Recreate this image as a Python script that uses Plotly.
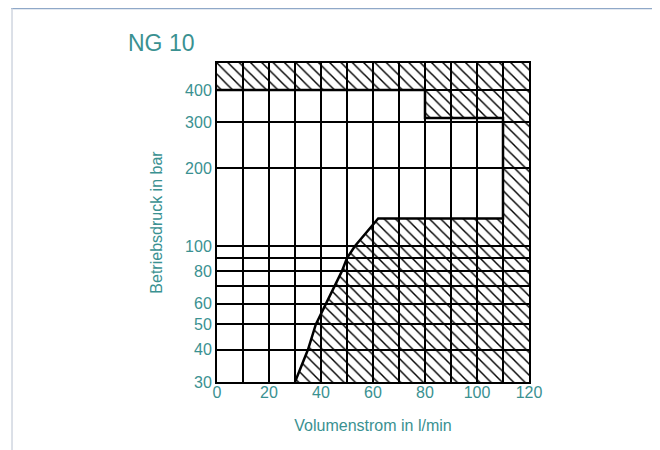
import plotly.graph_objects as go
import math

# Data
x_grid = [0, 10, 20, 30, 40, 50, 60, 70, 80, 90, 100, 110, 120]
x_labels = ["0", "", "20", "", "40", "", "60", "", "80", "", "100", "", "120"]
y_grid = [30, 40, 50, 60, 70, 80, 90, 100, 200, 300, 400]
y_labels = ["30", "40", "50", "60", "", "80", "", "100", "200", "300", "400"]

# Boundary of the admissible operating range (flow l/min, pressure bar)
limit_q = [30, 35, 38, 42, 48, 50, 53, 62, 110, 110, 80, 80, 0]
limit_p = [30, 40, 50, 60, 80, 90, 100, 128, 128, 312, 312, 400, 400]

q_min, q_max = 0, 120
p_min, p_max = 30, 508

teal = "#3a9191"
font_family = "Arial, Liberation Sans, sans-serif"

# hatched (non-admissible) region: boundary + outer corners of the chart
hatch_q = limit_q + [q_min, q_max, q_max, limit_q[0]]
hatch_p = limit_p + [p_max, p_max, p_min, limit_p[0]]

fig = go.Figure()
fig.add_trace(go.Scatter(
    x=hatch_q, y=hatch_p, mode="lines", fill="toself",
    fillcolor="rgba(255,255,255,0)",
    fillpattern=dict(shape="\\", size=8, solidity=0.18, fgcolor="black",
                     bgcolor="rgba(255,255,255,0)", fillmode="replace"),
    line=dict(width=0), hoverinfo="skip", showlegend=False,
))
fig.add_trace(go.Scatter(
    x=limit_q, y=limit_p, mode="lines",
    line=dict(color="black", width=2.5), showlegend=False,
))

fig.update_layout(
    width=652, height=442,
    margin=dict(l=209, r=131, t=55, b=68),
    paper_bgcolor="white", plot_bgcolor="white",
    font=dict(family=font_family, color=teal, size=16),
    annotations=[dict(text="NG 10", x=-0.292, y=1.063, xref="paper", yref="paper",
                      xanchor="left", yanchor="middle", showarrow=False,
                      font=dict(size=23, color=teal, family=font_family))],
    shapes=[
        dict(type="line", xref="paper", yref="paper", x0=-0.66, x1=1.42, y0=1.171, y1=1.171,
             line=dict(color="#8fa8c8", width=1.5)),
        dict(type="line", xref="paper", yref="paper", x0=-0.657, x1=-0.657, y0=1.171, y1=-0.25,
             line=dict(color="#d0d6e0", width=1.5)),
        dict(type="line", xref="paper", yref="paper", x0=1.410, x1=1.410, y0=1.171, y1=-0.25,
             line=dict(color="#d0d6e0", width=1.5)),
    ],
)
fig.update_xaxes(
    range=[q_min, q_max], tickvals=x_grid, ticktext=x_labels,
    showgrid=True, gridcolor="black", gridwidth=1.5,
    showline=True, linecolor="black", linewidth=2, mirror=True,
    ticks="", zeroline=False, tickfont=dict(size=16, color=teal),
    ticklabelstandoff=-5,
    title=dict(text="Volumenstrom in l/min", font=dict(size=16, color=teal), standoff=20),
)
fig.update_yaxes(
    type="log", range=[math.log10(p_min), math.log10(p_max)],
    tickvals=y_grid, ticktext=y_labels,
    showgrid=True, gridcolor="black", gridwidth=1.5,
    showline=True, linecolor="black", linewidth=2, mirror=True,
    ticks="", zeroline=False, tickfont=dict(size=16, color=teal),
    title=dict(text="Betriebsdruck in bar", font=dict(size=16, color=teal), standoff=18),
)

fig.write_html("out.html")
